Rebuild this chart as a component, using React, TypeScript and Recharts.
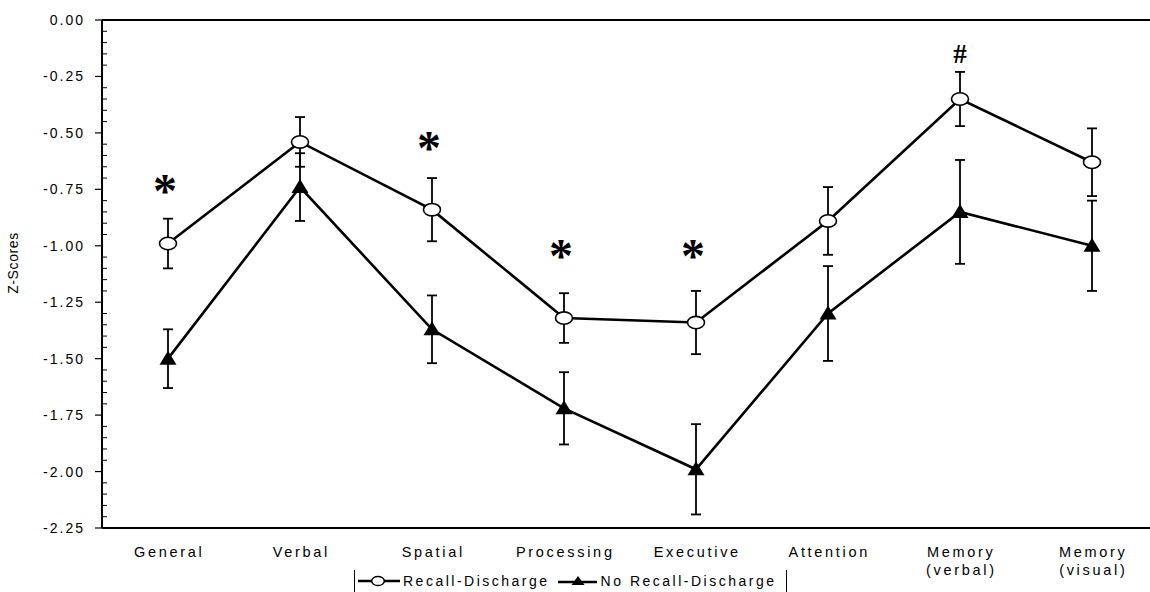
import {
  ComposedChart,
  Line,
  XAxis,
  YAxis,
  ErrorBar,
  Legend,
  ReferenceLine,
  ReferenceDot,
} from "recharts";

const categories = [
  "General",
  "Verbal",
  "Spatial",
  "Processing",
  "Executive",
  "Attention",
  "Memory\n(verbal)",
  "Memory\n(visual)",
];
const recall = [-0.99, -0.54, -0.84, -1.32, -1.34, -0.89, -0.35, -0.63];
const recallErr = [0.11, 0.11, 0.14, 0.11, 0.14, 0.15, 0.12, 0.15];
const noRecall = [-1.5, -0.74, -1.37, -1.72, -1.99, -1.3, -0.85, -1.0];
const noRecallErr = [0.13, 0.15, 0.15, 0.16, 0.2, 0.21, 0.23, 0.2];

// significance marks drawn above some categories
const markCats = ["General", "Spatial", "Processing", "Executive", "Memory\n(verbal)"];
const markY = [-0.73, -0.54, -1.02, -1.02, -0.148];
const markText = ["*", "*", "*", "*", "#"];

const majorTicks = [0, -0.25, -0.5, -0.75, -1, -1.25, -1.5, -1.75, -2, -2.25];
const allTicks: number[] = [];
for (let i = 0; i <= 45; i++) allTicks.push(-Math.round(i * 5) / 100);

const data = categories.map((c, i) => ({
  name: c,
  recall: recall[i],
  recallErr: recallErr[i],
  noRecall: noRecall[i],
  noRecallErr: noRecallErr[i],
}));

const FONT = "'Liberation Sans', Arial, sans-serif";
const SERIF = "'Liberation Serif', 'Times New Roman', serif";

const OpenOval = (p: any) => {
  if (p.cx == null || p.cy == null) return null;
  return (
    <ellipse cx={p.cx} cy={p.cy} rx={8.5} ry={6.2} fill="#fff" stroke="#000" strokeWidth={1.6} />
  );
};

const Tri = (p: any) => {
  if (p.cx == null || p.cy == null) return null;
  const { cx, cy } = p;
  return <path d={`M${cx},${cy - 8} L${cx + 8.5},${cy + 6} L${cx - 8.5},${cy + 6} Z`} fill="#000" />;
};

const ZTick = ({ x, y, payload }: any) => {
  const v = payload.value as number;
  const major = majorTicks.some((t) => Math.abs(t - v) < 1e-6);
  if (!major) {
    return <line x1={x} x2={x + 5} y1={y} y2={y} stroke="#000" strokeWidth={1} />;
  }
  return (
    <g>
      <line x1={x - 7} x2={x} y1={y} y2={y} stroke="#000" strokeWidth={1.2} />
      <text
        x={x - 17}
        y={y}
        dy={5}
        textAnchor="end"
        fontSize={14}
        letterSpacing={2}
        fontFamily={FONT}
        fill="#000"
      >
        {v.toFixed(2)}
      </text>
    </g>
  );
};

const CatTick = ({ x, y, payload }: any) => {
  const lines = String(payload.value).split("\n");
  return (
    <text
      x={x}
      y={y}
      textAnchor="middle"
      fontSize={14.5}
      letterSpacing={2.7}
      fontFamily={FONT}
      fill="#000"
    >
      {lines.map((l, i) => (
        <tspan key={i} x={x + 1.3} dy={i === 0 ? 29 : 18}>
          {l}
        </tspan>
      ))}
    </text>
  );
};

const LegendBox = () => (
  <div
    style={{
      display: "flex",
      alignItems: "center",
      borderLeft: "1px solid #000",
      borderRight: "1px solid #000",
      height: 22,
      marginTop: 8,
      padding: "0 10px 0 2px",
      fontFamily: FONT,
      fontSize: 14,
      letterSpacing: 2.5,
      color: "#000",
      width: "fit-content",
      whiteSpace: "nowrap",
    }}
  >
    <svg width={44} height={16}>
      <line x1={1} x2={43} y1={8} y2={8} stroke="#000" strokeWidth={2.5} />
      <ellipse cx={21} cy={8} rx={6.3} ry={4.6} fill="#fff" stroke="#000" strokeWidth={1.5} />
    </svg>
    <span style={{ marginLeft: 2 }}>Recall-Discharge</span>
    <svg width={40} height={16} style={{ marginLeft: 8 }}>
      <line x1={0} x2={39} y1={9} y2={9} stroke="#000" strokeWidth={2.5} />
      <path d="M20,3 L26.5,12 L13.5,12 Z" fill="#000" />
    </svg>
    <span style={{ marginLeft: 3 }}>No Recall-Discharge</span>
  </div>
);

export default function App() {
  return (
    <div style={{ position: "absolute", left: 0, top: 0, width: 1150, height: 592, overflow: "hidden", background: "#fff" }}>
      <ComposedChart
        width={1170}
        height={592}
        data={data}
        margin={{ top: 20, right: 12, left: 0, bottom: 30 }}
      >
        <XAxis
          dataKey="name"
          type="category"
          scale="band"
          axisLine={{ stroke: "#000", strokeWidth: 2 }}
          tickLine={false}
          tickSize={0}
          tickMargin={0}
          interval={0}
          height={34}
          tick={<CatTick />}
        />
        <YAxis
          type="number"
          domain={[-2.25, 0]}
          ticks={allTicks}
          interval={0}
          width={102}
          axisLine={{ stroke: "#000", strokeWidth: 2 }}
          tickLine={false}
          tickSize={0}
          tickMargin={0}
          tick={<ZTick />}
          label={{
            content: () => (
              <text
                x={18}
                y={263}
                transform="rotate(-90 18 263)"
                textAnchor="middle"
                fontSize={14}
                letterSpacing={0.6}
                fontFamily={FONT}
                fill="#000"
              >
                Z-Scores
              </text>
            ),
          }}
        />
        <ReferenceLine y={0} stroke="#000" strokeWidth={2} />
        <Line
          dataKey="noRecall"
          name="No Recall-Discharge"
          stroke="#000"
          strokeWidth={2.6}
          dot={<Tri />}
          activeDot={false}
          isAnimationActive={false}
        >
          <ErrorBar dataKey="noRecallErr" width={5} stroke="#000" strokeWidth={1.8} />
        </Line>
        <Line
          dataKey="recall"
          name="Recall-Discharge"
          stroke="#000"
          strokeWidth={2.6}
          dot={<OpenOval />}
          activeDot={false}
          isAnimationActive={false}
        >
          <ErrorBar dataKey="recallErr" width={5} stroke="#000" strokeWidth={1.8} />
        </Line>
        {markCats.map((c, i) => {
          const hash = markText[i] === "#";
          const size = hash ? 27 : 48;
          return (
            <ReferenceDot
              key={c}
              x={c}
              y={markY[i]}
              r={0}
              shape={(p: any) => (
                <text
                  x={p.cx - (hash ? 0 : 3)}
                  y={p.cy}
                  dy={hash ? size * 0.34 : size * 0.46}
                  textAnchor="middle"
                  fontSize={size}
                  fontWeight="bold"
                  fontFamily={SERIF}
                  fill="#000"
                >
                  {markText[i]}
                </text>
              )}
            />
          );
        })}
        <Legend
          verticalAlign="middle"
          content={<LegendBox />}
          wrapperStyle={{ left: 354, top: 562, width: 470, height: 32 }}
        />
      </ComposedChart>
    </div>
  );
}
